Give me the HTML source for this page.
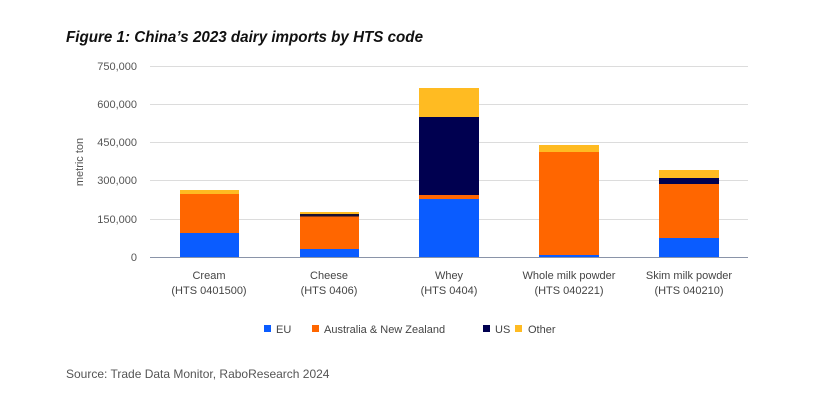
<!DOCTYPE html>
<html><head><style>
body{margin:0;background:#fff;}
svg{display:block;font-family:"Liberation Sans",sans-serif;}
</style></head><body>
<svg width="820" height="414" xmlns="http://www.w3.org/2000/svg">
<text x="66" y="42" font-size="16" font-weight="bold" font-style="italic" fill="#111" textLength="357" lengthAdjust="spacingAndGlyphs">Figure 1: China’s 2023 dairy imports by HTS code</text>
<g stroke="#dcdcdc" stroke-width="1">
<line x1="150" x2="748" y1="66.5" y2="66.5"/><line x1="150" x2="748" y1="104.5" y2="104.5"/>
<line x1="150" x2="748" y1="142.5" y2="142.5"/><line x1="150" x2="748" y1="180.5" y2="180.5"/>
<line x1="150" x2="748" y1="219.5" y2="219.5"/>
</g>
<g font-size="11" fill="#555" text-anchor="end">
<text x="137" y="70">750,000</text><text x="137" y="108">600,000</text><text x="137" y="146">450,000</text>
<text x="137" y="184">300,000</text><text x="137" y="223">150,000</text><text x="137" y="261">0</text>
</g>
<text transform="translate(83,162) rotate(-90)" font-size="11" fill="#555" text-anchor="middle">metric ton</text>
<rect x="180" y="190" width="59" height="4" fill="#ffbb22"/>
<rect x="180" y="194" width="59" height="39" fill="#ff6600"/>
<rect x="180" y="233" width="59" height="24" fill="#0a5cff"/>
<rect x="300" y="212" width="59" height="2" fill="#ffbb22"/>
<rect x="300" y="214" width="59" height="2.5" fill="#1a1030"/>
<rect x="300" y="216.5" width="59" height="32.5" fill="#ff6600"/>
<rect x="300" y="249" width="59" height="8" fill="#0a5cff"/>
<rect x="419" y="88" width="60" height="29" fill="#ffbb22"/>
<rect x="419" y="117" width="60" height="78" fill="#000050"/>
<rect x="419" y="195" width="60" height="4" fill="#ff6600"/>
<rect x="419" y="199" width="60" height="58" fill="#0a5cff"/>
<rect x="539" y="145" width="60" height="7" fill="#ffbb22"/>
<rect x="539" y="152" width="60" height="103" fill="#ff6600"/>
<rect x="539" y="255" width="60" height="2" fill="#0a5cff"/>
<rect x="659" y="170" width="60" height="8" fill="#ffbb22"/>
<rect x="659" y="178" width="60" height="6" fill="#000050"/>
<rect x="659" y="184" width="60" height="54" fill="#ff6600"/>
<rect x="659" y="238" width="60" height="19" fill="#0a5cff"/>
<line x1="150" x2="748" y1="257.5" y2="257.5" stroke="#8a94a8" stroke-width="1"/>
<g font-size="11" fill="#444" text-anchor="middle">
<text x="209" y="279">Cream</text><text x="209" y="294">(HTS 0401500)</text>
<text x="329" y="279">Cheese</text><text x="329" y="294">(HTS 0406)</text>
<text x="449" y="279">Whey</text><text x="449" y="294">(HTS 0404)</text>
<text x="569" y="279">Whole milk powder</text><text x="569" y="294">(HTS 040221)</text>
<text x="689" y="279">Skim milk powder</text><text x="689" y="294">(HTS 040210)</text>
</g>
<g font-size="11" fill="#444">
<rect x="264" y="325" width="7" height="7" fill="#0a5cff"/><text x="276" y="333">EU</text>
<rect x="312" y="325" width="7" height="7" fill="#ff6600"/><text x="324" y="333">Australia &amp; New Zealand</text>
<rect x="483" y="325" width="7" height="7" fill="#000050"/><text x="495" y="333">US</text>
<rect x="515" y="325" width="7" height="7" fill="#ffbb22"/><text x="528" y="333">Other</text>
</g>
<text x="66" y="378" font-size="12" fill="#555">Source: Trade Data Monitor, RaboResearch 2024</text>
</svg>
</body></html>
